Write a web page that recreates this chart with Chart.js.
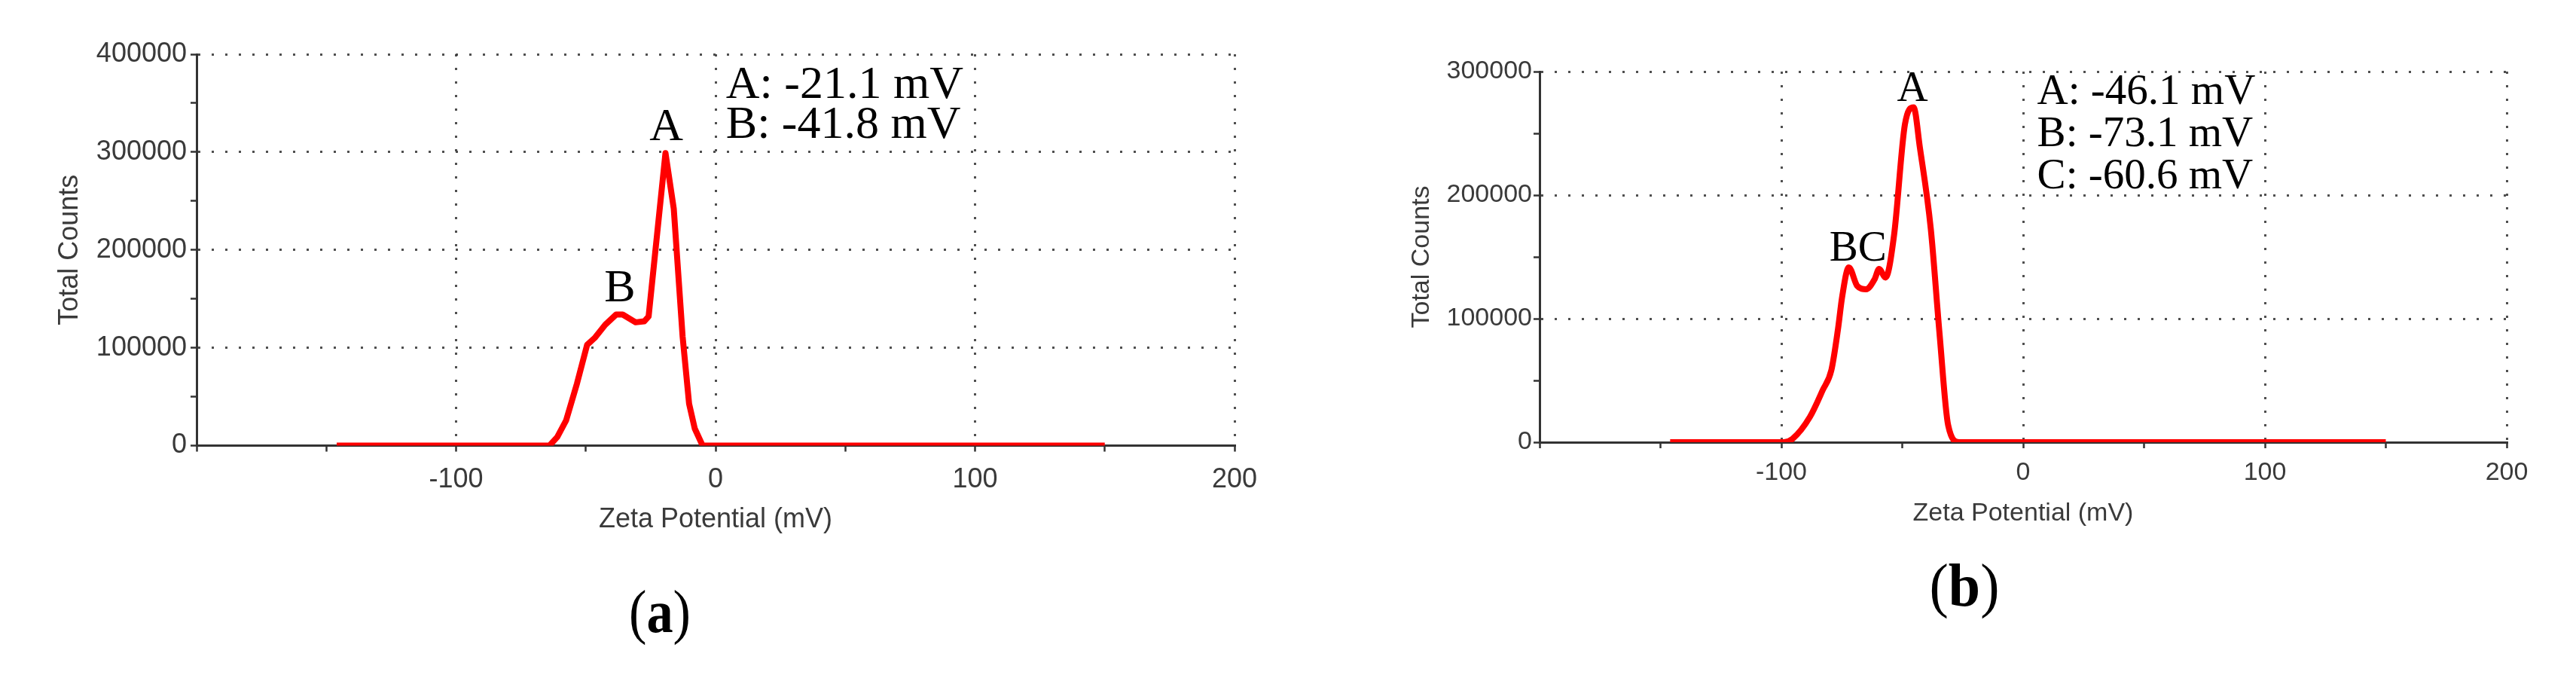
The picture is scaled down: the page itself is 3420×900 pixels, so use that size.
<!DOCTYPE html>
<html>
<head>
<meta charset="utf-8">
<title>Zeta potential distributions</title>
<script src="https://cdn.jsdelivr.net/npm/chart.js@4.4.1/dist/chart.umd.min.js"></script>
<style>
  html, body { margin: 0; padding: 0; background: #fff; }
  body { width: 3420px; height: 900px; position: relative; overflow: hidden; }
  .panel { position: absolute; top: 0; height: 720px; }
  #panel-a { left: 0; width: 1700px; }
  #panel-b { left: 1750px; width: 1670px; }
  .tag {
    position: absolute; font-family: "Liberation Serif", "Times New Roman", serif;
    font-size: 80px; line-height: 1; color: #000; white-space: nowrap;
  }
  #tag-a { left: 876px; top: 772px; transform: translateX(-50%) scaleX(.88); }
  #tag-b { left: 2608px; top: 737px; transform: translateX(-50%) scaleX(.95); }
</style>
</head>
<body>
<div class="panel" id="panel-a"><canvas id="chart-a"></canvas></div>
<div class="panel" id="panel-b"><canvas id="chart-b"></canvas></div>
<div class="tag" id="tag-a">(<b>a</b>)</div>
<div class="tag" id="tag-b">(<b>b</b>)</div>

<script>
/* Two zeta-potential distributions, (a) and (b), drawn as red line charts. */

// panel (a): zeta potential (mV) and total counts
const zetaA = [-146, -64, -61, -57.6, -53.4, -49.5, -46.6, -42.5, -38.3, -35.8,
  -30.8, -27.5, -25.8, -19.3, -16.1, -12.7, -10.2, -8, -5, 150];
const countsA = [0, 0, 8800, 25700, 63500, 103000, 110000, 123600, 134000, 134000,
  126000, 127000, 132000, 299000, 242000, 111600, 42900, 17300, 0, 0];

// panel (b)
const zetaB = [-146, -99, -95.4, -88.2, -82.9, -79.3, -76.6, -74.8, -72.1, -68.6,
  -65, -61.4, -59.6, -56.9, -53.4, -48.9, -45.3, -42.7, -38.2, -34.6, -31, -26.5, 150];
const countsB = [0, 0, 2700, 20400, 42100, 58500, 91200, 118400, 141500, 126500,
  123800, 132000, 140200, 133300, 167400, 257200, 271000, 238400, 172800, 88400, 13600, 0, 0];

// axis ticks
const xTicks = [-100, 0, 100, 200];
const yMaxA = 400000;
const yMaxB = 300000;

// peak notes, anchored in data units
const notesA = [
  { text: 'A: -21.1 mV', x: 4, y: 355400, align: 'left' },
  { text: 'B: -41.8 mV', x: 4, y: 314200, align: 'left' },
  { text: 'A', x: -19, y: 311900 },
  { text: 'B', x: -36.9, y: 147600 },
];
const notesB = [
  { text: 'A: -46.1 mV', x: 5.8, y: 273500, align: 'left' },
  { text: 'B: -73.1 mV', x: 5.8, y: 239500, align: 'left' },
  { text: 'C: -60.6 mV', x: 5.8, y: 205500, align: 'left' },
  { text: 'A', x: -45.8, y: 276200 },
  { text: 'BC', x: -68.3, y: 147000 },
];

const peakLabels = {
  id: 'peakLabels',
  afterDatasetsDraw(chart, args, opts) {
    const { ctx, scales: { x, y } } = chart;
    ctx.save();
    ctx.fillStyle = '#000';
    ctx.font = `${opts.size}px "Liberation Serif", "Times New Roman", serif`;
    ctx.textBaseline = 'alphabetic';
    for (const n of opts.notes) {
      ctx.textAlign = n.align || 'center';
      ctx.fillText(n.text, x.getPixelForValue(n.x), y.getPixelForValue(n.y));
    }
    ctx.restore();
  },
};

const AXIS = '#333';
const TEXT = '#3a3a3a';
const DOTS = 'rgba(60,60,60,0.9)';

function makeChart(id, zeta, counts, c) {
  const font = { family: '"Liberation Sans", Arial, sans-serif', size: c.fontSize };
  return new Chart(document.getElementById(id), {
    type: 'line',
    data: {
      datasets: [{
        data: zeta.map((z, i) => ({ x: z, y: counts[i] })),
        borderColor: '#ff0000', borderWidth: 8, pointRadius: 0,
        borderJoinStyle: 'round', fill: false,
        ...(c.smooth ? { cubicInterpolationMode: 'monotone' } : { tension: 0 }),
      }],
    },
    plugins: [peakLabels],
    options: {
      responsive: true, maintainAspectRatio: false, animation: false,
      layout: { padding: c.padding },
      plugins: {
        legend: { display: false }, tooltip: { enabled: false },
        peakLabels: { notes: c.notes, size: c.noteSize },
      },
      scales: {
        x: {
          type: 'linear', min: -200, max: 200,
          ticks: {
            stepSize: 50, autoSkip: false, maxRotation: 0, color: TEXT, font, padding: c.xPad,
            callback: (v) => (xTicks.includes(v) ? String(v) : ''),
          },
          grid: {
            color: (ctx) => (ctx.tick && xTicks.includes(ctx.tick.value) ? DOTS : 'transparent'),
            lineWidth: 3, tickColor: AXIS, tickLength: 8, tickWidth: 2.5,
          },
          border: { color: AXIS, width: 3, dash: [3, 15] },
          title: { display: true, text: 'Zeta Potential (mV)', color: TEXT, font, padding: { top: 0, bottom: 0 } },
          afterFit: (s) => { s.height = c.xHeight; },
        },
        y: {
          min: 0, max: c.yMax,
          ticks: {
            stepSize: 50000, color: TEXT, font, padding: c.yPad,
            callback: (v) => (v % 100000 === 0 ? String(v) : ''),
          },
          grid: {
            color: (ctx) => (ctx.tick && ctx.tick.value > 0 && ctx.tick.value % 100000 === 0 ? DOTS : 'transparent'),
            lineWidth: 3, tickColor: AXIS, tickLength: 8, tickWidth: 2.5,
          },
          border: { color: AXIS, width: 3, dash: [3, 15] },
          title: { display: true, text: 'Total Counts', color: TEXT, font, padding: { top: c.yTitlePad, bottom: 0 } },
          afterFit: (s) => { s.width = c.yWidth; },
        },
      },
    },
  });
}

makeChart('chart-a', zetaA, countsA, {
  fontSize: 36, noteSize: 62, yMax: yMaxA, notes: notesA, smooth: false,
  padding: { left: 0, top: 72, right: 61, bottom: 8.4 },
  yWidth: 261, xHeight: 120.1, xPad: 15.6, yPad: 5, yTitlePad: 71.4,
});

makeChart('chart-b', zetaB, countsB, {
  fontSize: 34, noteSize: 57, yMax: yMaxB, notes: notesB, smooth: true,
  padding: { left: 0, top: 95, right: 92, bottom: 17.9 },
  yWidth: 294, xHeight: 115.1, xPad: 12.6, yPad: 2, yTitlePad: 117.1,
});
</script>
</body>
</html>
